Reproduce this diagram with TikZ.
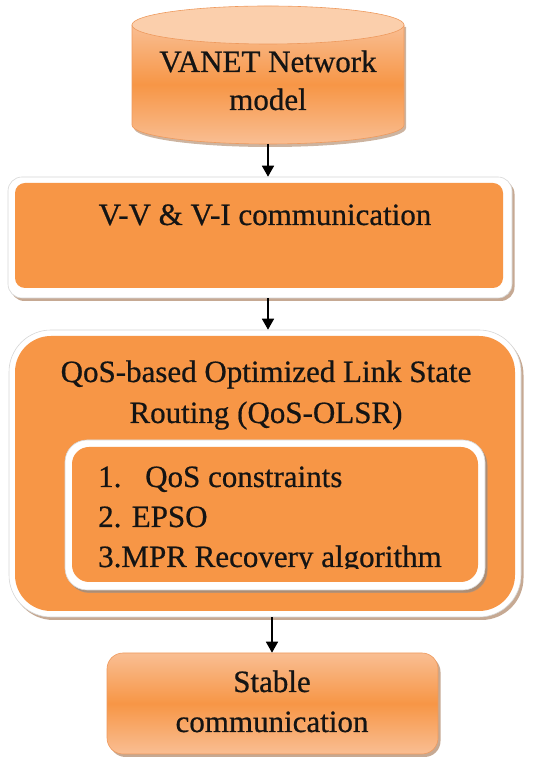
\documentclass[tikz,border=0pt]{standalone}
\usepackage{fontspec}
\setmainfont{Liberation Serif}
\usetikzlibrary{arrows.meta,shadows}
\definecolor{org}{HTML}{F79646}
\definecolor{orgl}{HTML}{F9BE93}
\definecolor{orgtop}{HTML}{FBCFAC}
\definecolor{orgedge}{HTML}{EE9A5E}
\definecolor{frameedge}{HTML}{D6D6D6}
\definecolor{shd}{HTML}{B89478}
\begin{document}
\begin{tikzpicture}[x=1pt,y=1pt,
  lbl/.style={inner sep=0pt, anchor=base, font=\fontsize{31}{38}\selectfont\addfontfeature{FakeBold=0.6}, text=black!92},
  lblw/.style={lbl, anchor=base west},
  frame/.style={draw=frameedge, line width=0.6pt, fill=white, inner sep=0pt,
    drop shadow={shadow xshift=2.5pt, shadow yshift=-3pt, fill=shd, opacity=0.8}},
  core/.style={fill=org, inner sep=0pt},
  arr/.style={line width=1.6pt, -{Triangle[width=12pt,length=11pt]}},
]
\useasboundingbox (0,0) rectangle (534,758);
% cylinder
\fill[shd, opacity=0.7] (134,731) -- (134,630) arc[start angle=180,end angle=360,x radius=136,y radius=19] -- (406,731) -- cycle;
\shade[top color=orgl, bottom color=orgl, middle color=org, draw=orgedge, line width=0.6pt]
  (132,733) -- (132,633) arc[start angle=180,end angle=360,x radius=136,y radius=19] -- (404,733) -- cycle;
\filldraw[fill=orgtop, draw=orgedge, line width=0.6pt] (268,733) ellipse[x radius=136, y radius=19];
\node[lbl] (t1a) at (268,686) {VANET Network};
\node[lbl] (t1b) at (268,648) {model};
\coordinate (cylbot) at (268,614);
% box 2
\node[frame, rounded corners=14pt, minimum width=504pt, minimum height=121pt] (box2f) at (260,520.5) {};
\node[core, rounded corners=10pt, minimum width=488pt, minimum height=105pt] (box2) at (259,522.5) {};
\node[lbl] (t2) at (265,533) {V-V \& V-I communication};
% box 3
\node[frame, rounded corners=42pt, minimum width=512pt, minimum height=287pt] (box3f) at (265,284.5) {};
\node[core, rounded corners=36pt, minimum width=500pt, minimum height=275pt] (box3) at (265,284.5) {};
\node[lbl] (t3a) at (266,376) {QoS-based Optimized Link State};
\node[lbl] (t3b) at (266,335) {Routing (QoS-OLSR)};
\node[frame, drop shadow={shadow xshift=2pt, shadow yshift=-2.5pt, fill=gray, opacity=0.35},
  rounded corners=22pt, minimum width=420pt, minimum height=150pt] (box3if) at (275,243) {};
\node[core, rounded corners=17pt, minimum width=406pt, minimum height=135pt] (box3i) at (275,243.5) {};
\node[lblw] (i1n) at (98,271) {1.};
\node[lblw] (i1) at (145,271) {QoS constraints};
\node[lblw] (i2) at (98,231) {2. EPSO};
\begin{scope}
\clip (60,189.5) rectangle (480,230);
\node[lblw] (i3) at (98,191) {3.MPR Recovery algorithm};
\end{scope}
% box 4
\node[draw=orgedge, line width=0.6pt, top color=orgl, bottom color=orgl, middle color=org,
  drop shadow={shadow xshift=2.5pt, shadow yshift=-3pt, fill=shd, opacity=0.8},
  rounded corners=16pt, minimum width=331pt, minimum height=101pt] (box4) at (272.5,54.5) {};
\node[lbl] (t4a) at (272,66) {Stable};
\node[lbl] (t4b) at (272,26) {communication};
% arrows
\coordinate (a2) at (268,0);
\coordinate (a3) at (272,0);
\draw[arr] (cylbot) -- (cylbot |- box2f.north);
\draw[arr] (box2f.south -| a2) -- (box3f.north -| a2);
\draw[arr] (box3f.south -| a3) -- (box4.north -| a3);
\end{tikzpicture}
\end{document}
